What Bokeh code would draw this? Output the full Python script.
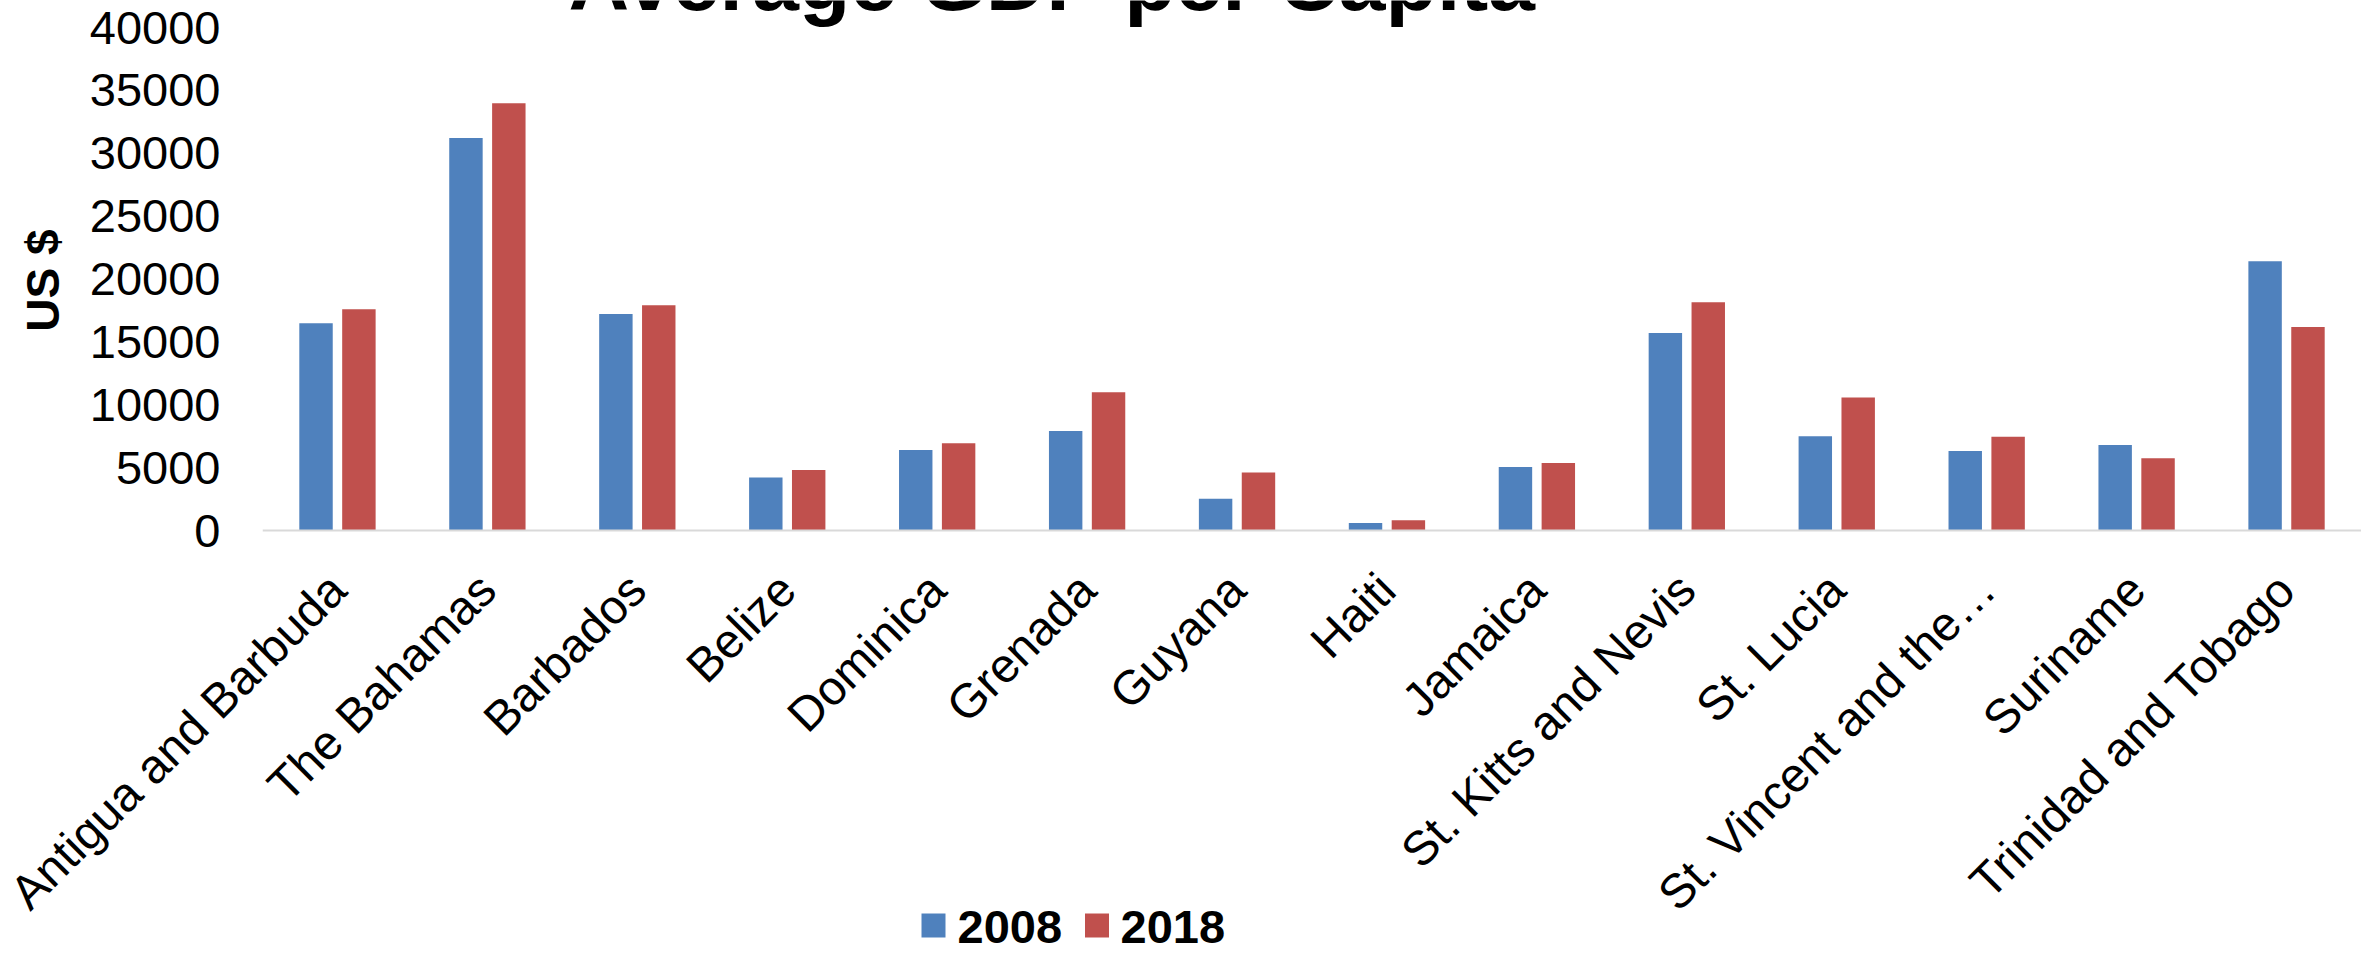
from math import pi
from bokeh.plotting import figure
from bokeh.layouts import column
from bokeh.models import (ColumnDataSource, FactorRange, Range1d, FixedTicker,
                          NumeralTickFormatter, Span)
from bokeh.core.properties import value
from bokeh.transform import dodge
from bokeh.embed import file_html
from bokeh.resources import INLINE

countries = ["Antigua and Barbuda", "The Bahamas", "Barbados", "Belize", "Dominica",
             "Grenada", "Guyana", "Haiti", "Jamaica", "St. Kitts and Nevis",
             "St. Lucia", "St. Vincent and the\u2026", "Suriname", "Trinidad and Tobago"]
gdp_2008 = [16480, 31210, 17220, 4210, 6410, 7920, 2520, 600, 5040, 15710,
            7500, 6330, 6790, 21410]
gdp_2018 = [17600, 33970, 17910, 4820, 6940, 11000, 4610, 810, 5360, 18150,
            10570, 7450, 5750, 16190]
y_ticks = [0, 5000, 10000, 15000, 20000, 25000, 30000, 35000, 40000]
series_names = ["2008", "2018"]
title_text = "Average GDP per Capita"
y_title = "US $"

BLUE = "#4F81BD"
RED = "#C0504D"
FONT = "Liberation Sans"

# ---- layout constants (pixels) ----
W = 2361
LEFT = 262                              # frame left edge of the bar panel
N = len(countries)
CAT_W = (W - LEFT) / N                  # pixels per category
MAIN_H = 560                            # bar panel height (frame from 0 to MAIN_H)
BOT_H = 944 - MAIN_H                    # label / legend panel height
Y_TOP_PX = 27                           # pixel row of 40000
Y_ZERO_PX = 530                         # pixel row of 0
per_px = 40000 / (Y_ZERO_PX - Y_TOP_PX)
SVG_TEXT_SHIFT = 0.305                  # svg text sits this many em below its baseline


def px_to_x(px):
    return (px - LEFT) / CAT_W


source = ColumnDataSource(data=dict(country=countries, y2008=gdp_2008, y2018=gdp_2018))
x_range = FactorRange(*countries, range_padding=0)

p = figure(width=W, height=MAIN_H, output_backend="svg", toolbar_location=None,
           x_range=x_range,
           y_range=Range1d(-(MAIN_H - Y_ZERO_PX) * per_px, 40000 + Y_TOP_PX * per_px),
           min_border_left=LEFT, min_border_right=0, min_border_top=0,
           min_border_bottom=0)
p.outline_line_color = None
p.background_fill_color = "white"
p.border_fill_color = "white"
p.xgrid.visible = False
p.ygrid.visible = False
p.xaxis.visible = False

p.vbar(x=dodge("country", -0.143, range=x_range), top="y2008", width=0.223,
       source=source, fill_color=BLUE, line_color=None)
p.vbar(x=dodge("country", 0.143, range=x_range), top="y2018", width=0.223,
       source=source, fill_color=RED, line_color=None)

p.add_layout(Span(location=0, dimension="width", line_color="#D9D9D9", line_width=2))

# y axis
ya = p.yaxis[0]
ya.ticker = FixedTicker(ticks=y_ticks)
ya.formatter = NumeralTickFormatter(format="0")
ya.axis_line_color = None
ya.major_tick_line_color = None
ya.minor_tick_line_color = None
ya.major_tick_out = 0
ya.major_label_text_font = FONT
ya.major_label_text_font_size = "47px"
ya.major_label_text_color = "black"
ya.major_label_standoff = 42
ya.axis_label = y_title
ya.axis_label_text_font = FONT
ya.axis_label_text_font_size = "46px"
ya.axis_label_text_font_style = "bold"
ya.axis_label_text_color = "black"
ya.axis_label_standoff = 18

# title, cut by the top edge as in the reference
TITLE_SIZE = 84
TITLE_CX_PX = 1052
TITLE_BASE_PX = 6 - SVG_TEXT_SHIFT * TITLE_SIZE
p.text(x=[px_to_x(TITLE_CX_PX)], y=[40000 + (Y_TOP_PX - TITLE_BASE_PX) * per_px],
       text=[title_text], text_align="center", text_baseline="alphabetic",
       text_font=value(FONT), text_font_size=f"{TITLE_SIZE}px", text_font_style="bold",
       text_color="black")

# ---- lower panel: category labels and legend ----
b = figure(width=W, height=BOT_H, output_backend="svg", toolbar_location=None,
           x_range=Range1d(px_to_x(0), px_to_x(W)), y_range=Range1d(BOT_H, 0),
           min_border_left=0, min_border_right=0, min_border_top=0,
           min_border_bottom=0)
# keep the lower panel's frame over the whole width (no frame alignment in the column)
try:
    b.frame_align = False
    p.frame_align = False
except Exception:
    b.x_range = Range1d(0, N)
b.outline_line_color = None
b.background_fill_color = "white"
b.border_fill_color = "white"
b.xgrid.visible = False
b.ygrid.visible = False
b.axis.visible = False

LABEL_ANCHOR_PX = 581
label_src = ColumnDataSource(data=dict(
    pos=[i + 0.5 for i in range(N)], country=countries,
    y=[LABEL_ANCHOR_PX - MAIN_H] * N))
b.text(x="pos", y="y", text="country", source=label_src, angle=pi / 4,
       text_align="right", text_baseline="middle", text_font=value(FONT),
       text_font_size="48px", text_color="black")

LEG_SIZE = 47
legend_colors = [BLUE, RED]
legend_box_cx = [px_to_x(933), px_to_x(1096.5)]
legend_text_x = [px_to_x(957), px_to_x(1120)]
box_cy = 925 - MAIN_H
text_base = 941 - SVG_TEXT_SHIFT * LEG_SIZE - MAIN_H
leg_src = ColumnDataSource(data=dict(name=series_names, color=legend_colors,
                                     bx=legend_box_cx, tx=legend_text_x,
                                     by=[box_cy, box_cy], ty=[text_base, text_base]))
b.rect(x="bx", y="by", width=24 / CAT_W, height=24, source=leg_src, fill_color="color",
       line_color=None)
b.text(x="tx", y="ty", text="name", source=leg_src,
       text_align="left", text_baseline="alphabetic", text_font=value(FONT),
       text_font_size=f"{LEG_SIZE}px", text_font_style="bold", text_color="black")

layout = column(p, b, spacing=0)
open("out.html", "w").write(file_html(layout, INLINE))
